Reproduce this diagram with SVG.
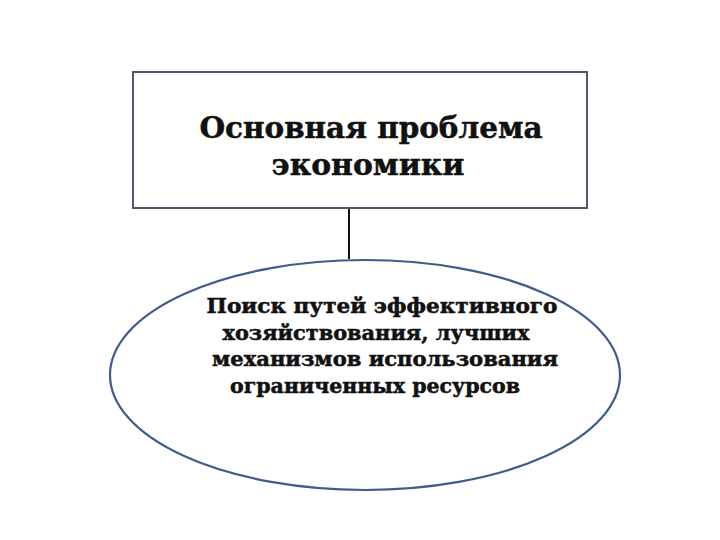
<svg xmlns="http://www.w3.org/2000/svg" width="720" height="540" viewBox="0 0 720 540">
<style>
.t{font-family:"DejaVu Serif","Liberation Serif",serif;font-weight:bold;fill:#111;stroke:#111;stroke-width:0.5;text-anchor:middle}
.h{font-size:30px}
.b{font-size:20px}
</style>
<rect width="720" height="540" fill="#fff"/>
<g id="connectors">
<line x1="349" y1="208" x2="349" y2="259" stroke="#111" stroke-width="2"/>
</g>
<g id="problem">
<rect x="133" y="72" width="454" height="136" fill="#fffffd" stroke="#4c5670" stroke-width="2"/>
<text class="t h" x="371" y="138" textLength="343" lengthAdjust="spacingAndGlyphs">Основная проблема</text>
<text class="t h" x="368" y="175" textLength="193" lengthAdjust="spacingAndGlyphs">экономики</text>
</g>
<g id="search">
<ellipse cx="365" cy="375" rx="255" ry="115" fill="#fff" stroke="#3f5d8c" stroke-width="2.2"/>
<text class="t b" x="382" y="313" textLength="351" lengthAdjust="spacingAndGlyphs">Поиск путей эффективного</text>
<text class="t b" x="376" y="340" textLength="307" lengthAdjust="spacingAndGlyphs">хозяйствования, лучших</text>
<text class="t b" x="385" y="366" textLength="346" lengthAdjust="spacingAndGlyphs">механизмов использования</text>
<text class="t b" x="375" y="393" textLength="290" lengthAdjust="spacingAndGlyphs">ограниченных ресурсов</text>
</g>
</svg>
